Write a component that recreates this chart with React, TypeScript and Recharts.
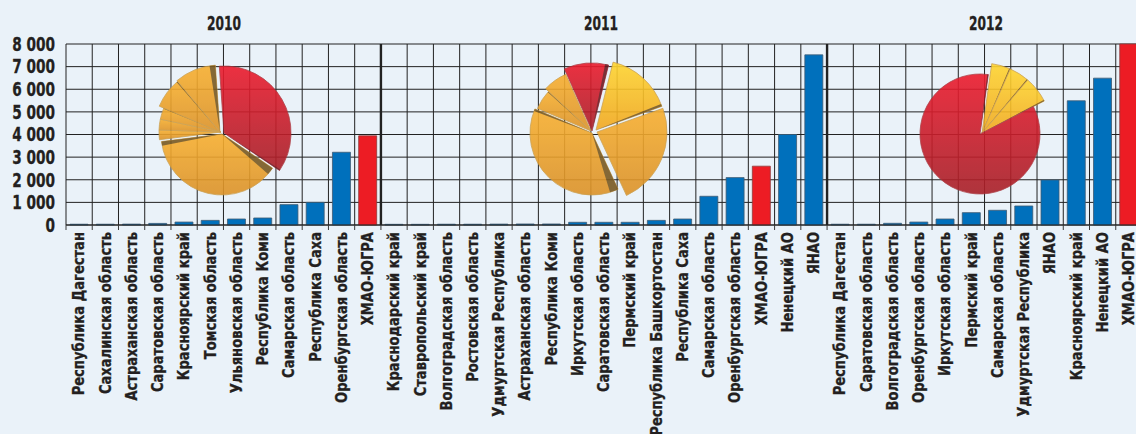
import React from "react";
import { ComposedChart, Bar, Cell, XAxis, YAxis, CartesianGrid, PieChart, Pie } from "recharts";

const categories2010 = ["Республика Дагестан","Сахалинская область","Астраханская область","Саратовская область","Красноярский край","Томская область","Ульяновская область","Республика Коми","Самарская область","Республика Саха","Оренбургская область","ХМАО-ЮГРА"];
const values2010 = [35,35,40,70,130,205,265,310,900,1000,3215,3940];
const categories2011 = ["Краснодарский край","Ставропольский край","Волгоградская область","Ростовская область","Удмуртская Республика","Астраханская область","Республика Коми","Иркутская область","Саратовская область","Пермский край","Республика Башкортостан","Республика Саха","Самарская область","Оренбургская область","ХМАО-ЮГРА","Ненецкий АО","ЯНАО"];
const values2011 = [30,30,35,35,40,45,45,120,120,120,205,265,1270,2095,2600,4000,7520];
const categories2012 = ["Республика Дагестан","Саратовская область","Волгоградская область","Оренбургская область","Иркутская область","Пермский край","Самарская область","Удмуртская Республика","ЯНАО","Красноярский край","Ненецкий АО","ХМАО-ЮГРА"];
const values2012 = [35,35,75,130,265,545,650,840,1990,5490,6490,8000];
const yTicks = [0,1000,2000,3000,4000,5000,6000,7000,8000];
const years = ["2010","2011","2012"];

const pieShares2010 = [35.6,38.6,2.5,2.8,3.1,7.5,10.0];
const pieShares2011 = [10.6,15.6,23.6,38.3,5.6,6.4];
const pieShares2012 = [4.4,4.7,6.1,84.7];

const RED = "url(#pieRed)", OR = "url(#pieOrange)", YE = "url(#pieYellow)";
const W = 1142, H = 434, LEFT = 66, TOP = 44, BOTTOM = 225;
const FONT = "'DejaVu Sans Condensed','DejaVu Sans',sans-serif";
const INK = "#231f20";

type Layout = { start:number; shares:number[]; fills:string[]; cx:number[]; cy:number[]; r:number[]; edgeStart:number[]; edgeEnd:number[] };
const pieLayouts: Layout[] = [
  { start:-4, shares:pieShares2010, fills:[RED,OR,OR,OR,OR,OR,OR],
    cx:[224,222,221,221,221,220,220], cy:[133,134,132,132,132,132,132], r:[67,61,62,62,62,66,67],
    edgeStart:[0,7,0,0,0,0,0], edgeEnd:[1,4,0,0,1,1,5] },
  { start:-24, shares:pieShares2011, fills:[RED,YE,OR,OR,OR,OR],
    cx:[592,596,597,592,591,591], cy:[131,130,132,133,131,131], r:[68,70,70,62,58,62],
    edgeStart:[0,0,0,8,0,0], edgeEnd:[3,2,0,2,1,0] },
  { start:8, shares:pieShares2012, fills:[YE,YE,YE,RED],
    cx:[982,982,982,980], cy:[133,133,133,134], r:[70,70,70,60],
    edgeStart:[0,0,0,0], edgeEnd:[1,1,1,1] },
];

const rows = [
  ...categories2010.map((name,i)=>({name,value:values2010[i]})),
  ...categories2011.map((name,i)=>({name,value:values2011[i]})),
  ...categories2012.map((name,i)=>({name,value:values2012[i]})),
];
const highlight = "ХМАО-ЮГРА";
const n = rows.length;
const groupEnds = [categories2010.length, categories2010.length+categories2011.length];
const yearCenters = [224,601,986];

const boundaries = (offset:any) => Array.from({length:n+1},(_,i)=>offset.left+(i*offset.width)/n);

const XTick = (p:any) => {
  const step = (W-LEFT)/n;
  const left = p.x-step/2;
  return (
    <g>
      <line x1={left} x2={left} y1={BOTTOM} y2={230} stroke="#3a3a3a" strokeWidth={1}/>
      <text transform={`translate(${p.x} 232) rotate(-90) scale(0.91 1)`} textAnchor="end" dominantBaseline="central"
        fontFamily={FONT} fontWeight={700} fontSize={16} fill={INK} stroke={INK} strokeWidth={0.3}>{p.payload.value}</text>
    </g>
  );
};

const YTick = (p:any) => {
  const v:number = p.payload.value;
  const label = v===0?"0":String(v).replace(/(\d)(\d{3})$/,"$1 $2");
  return <text transform={`translate(55 ${p.y}) scale(0.76 1)`} textAnchor="end" dominantBaseline="central"
    fontFamily={FONT} fontWeight={700} fontSize={20} fill={INK} stroke={INK} strokeWidth={0.3}>{label}</text>;
};

const pieNodes = () => pieLayouts.flatMap((L,li)=>{
  const total = L.shares.reduce((a,b)=>a+b,0);
  let a = L.start;
  const out:any[] = [];
  L.shares.forEach((s,i)=>{
    const a0=a, a1=a+(s/total)*360; a=a1;
    const common = { cx:L.cx[i], cy:L.cy[i], outerRadius:L.r[i], innerRadius:0, isAnimationActive:false, dataKey:"v", data:[{v:s}], paddingAngle:0 };
    const dark = L.fills[i]===RED ? "#6e1a22" : "#7a5a22";
    out.push(<Pie key={`${li}-${i}`} {...common} startAngle={90-a0} endAngle={90-a1} fill={L.fills[i]} stroke={L.fills[i]===RED?"#a8323a":"#c99a45"} strokeWidth={0.8}/>);
    if(L.edgeStart[i]>0) out.push(<Pie key={`${li}-${i}-s`} {...common} startAngle={90-a0} endAngle={90-a0-L.edgeStart[i]} fill={dark} stroke="none"/>);
    if(L.edgeEnd[i]>0) out.push(<Pie key={`${li}-${i}-e`} {...common} startAngle={90-a1+L.edgeEnd[i]} endAngle={90-a1} fill={dark} stroke="none"/>);
  });
  return out;
});

export default function App(){
  return (
    <div style={{position:"absolute",left:0,top:0,width:1136,height:434,overflow:"hidden",background:"#EAF2F9"}}>
      <div style={{position:"absolute",left:0,top:0}}>
        <ComposedChart width={W} height={H} data={rows} margin={{top:TOP,right:0,bottom:0,left:0}} barSize={18}>
          <CartesianGrid stroke="#222" strokeWidth={1} horizontal vertical verticalCoordinatesGenerator={({offset}:any)=>boundaries(offset)} />
          <CartesianGrid stroke="#222" strokeWidth={2.4} horizontal={false} vertical verticalCoordinatesGenerator={({offset}:any)=>groupEnds.map(g=>boundaries(offset)[g])} />
          <XAxis dataKey="name" type="category" allowDuplicatedCategory interval={0} height={H-BOTTOM} axisLine={{stroke:"#222"}} tickLine={false} tick={XTick} />
          <YAxis width={LEFT} domain={[0,8000]} ticks={yTicks} axisLine={false} tickLine={false} interval={0} tick={YTick} />
          <Bar dataKey="value" isAnimationActive={false} strokeWidth={0.8}>
            {rows.map((r,i)=><Cell key={i} fill={r.name===highlight?"#ED1C24":"#0070BC"} stroke={r.name===highlight?"#8f3a3a":"#3f5a72"}/>)}
          </Bar>
          {years.map((y,i)=><text key={y} transform={`translate(${yearCenters[i]} 30) scale(0.68 1)`} textAnchor="middle" fontFamily={FONT} fontWeight={700} fontSize={20} fill={INK} stroke={INK} strokeWidth={0.3}>{y}</text>)}
        </ComposedChart>
      </div>
      <div style={{position:"absolute",left:0,top:0,opacity:0.9}}>
        <PieChart width={W} height={H} margin={{top:0,right:0,bottom:0,left:0}}>
          <defs>
            <linearGradient id="pieRed" x1="0" y1="0" x2="0" y2="1"><stop offset="0" stopColor="#EC1C2E"/><stop offset="1" stopColor="#A82028"/></linearGradient>
            <linearGradient id="pieOrange" x1="0" y1="0" x2="0" y2="1"><stop offset="0" stopColor="#F8B030"/><stop offset="1" stopColor="#DC9228"/></linearGradient>
            <linearGradient id="pieYellow" x1="0" y1="0" x2="0" y2="1"><stop offset="0" stopColor="#FFD530"/><stop offset="1" stopColor="#F2A820"/></linearGradient>
          </defs>
          {pieNodes()}
        </PieChart>
      </div>
    </div>
  );
}
